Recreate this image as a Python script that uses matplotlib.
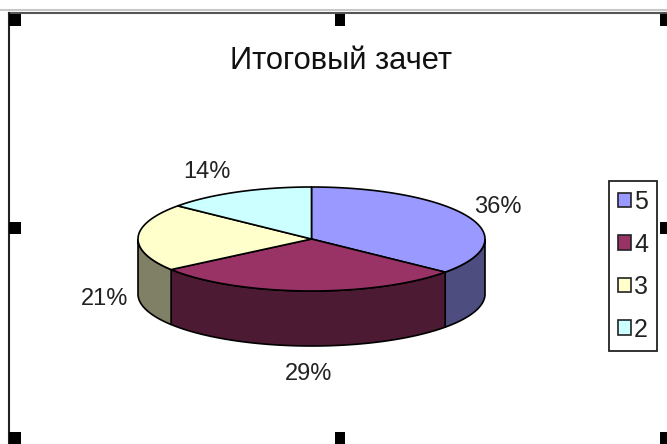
import numpy as np
import matplotlib
matplotlib.use("Agg")
import matplotlib.pyplot as plt
from matplotlib.patches import Patch, Rectangle

title = "Итоговый зачет"
categories = ["5", "4", "3", "2"]
values = [36, 29, 21, 14]
top_colors = ["#9999FF", "#993366", "#FFFFCC", "#CCFFFF"]
side_colors = ["#4D4D80", "#4D1A33", "#808066", "#668080"]
label_positions = [(498, 207), (309, 374), (105, 299), (207, 172)]

CX, CY, RX, RY, DEPTH = 311.5, 239.0, 173.5, 52.0, 55.0
FONT = "Liberation Sans"

fig = plt.figure(figsize=(6.67, 4.44), dpi=100, facecolor="white")
ax = fig.add_axes([0, 0, 1, 1])
ax.set_xlim(0, 667)
ax.set_ylim(444, 0)
ax.axis("off")


def rim(a0, a1, n=80):
    """Points on the top ellipse between two clockwise angles from 12 o'clock."""
    t = np.radians(np.linspace(a0, a1, n))
    return CX + RX * np.sin(t), CY - RY * np.cos(t)


shares = np.array(values, dtype=float) / sum(values) * 360
ends = np.cumsum(shares)
starts = ends - shares

# Outer wall: only the part of each slice on the near half of the ellipse
for a0, a1, col in zip(starts, ends, side_colors):
    lo, hi = max(a0, 90), min(a1, 270)
    if lo >= hi:
        continue
    x, y = rim(lo, hi)
    ax.fill(np.r_[x, x[::-1]], np.r_[y, y[::-1] + DEPTH], fc=col, ec="black", lw=1.2, zorder=2)

# Top faces
for a0, a1, col in zip(starts, ends, top_colors):
    x, y = rim(a0, a1)
    ax.fill(np.r_[CX, x], np.r_[CY, y], fc=col, ec="black", lw=1.2, joinstyle="round", zorder=3)

# Percentage labels
for v, (lx, ly) in zip(values, label_positions):
    ax.text(lx, ly, f"{v}%", ha="center", va="center", family=FONT, fontsize=17,
            color="#222222", zorder=4)

ax.text(341, 61, title, ha="center", va="center", family=FONT, fontsize=22.2,
        color="#111111", zorder=4)

# Legend
handles = [Patch(fc=c, ec="#222222", lw=1.2) for c in top_colors]
leg = ax.legend(handles, categories, loc="upper left", bbox_to_anchor=(609, 181),
                bbox_transform=ax.transData, prop={"family": FONT, "size": 18},
                frameon=True, fancybox=False, edgecolor="#222222", framealpha=1,
                borderpad=0.36, labelspacing=0.74, handlelength=0.52, handleheight=0.52,
                handletextpad=0.12, borderaxespad=0)
leg.get_frame().set_linewidth(1.3)
for t in leg.get_texts():
    t.set_color("#222222")

# Selected-object frame and its sizing handles
ax.plot([0, 667], [10, 10], color="#C8C8C8", lw=1.5, zorder=1)
ax.plot([8.5, 667], [13, 13], color="#555555", lw=1.5, zorder=1)
ax.plot([8.5, 8.5], [13, 444], color="#222222", lw=1.5, zorder=1)
for hx in (9, 335, 660):
    for hy in (14, 222, 432):
        if hx == 335 and hy == 222:
            continue
        ax.add_patch(Rectangle((hx, hy), 12 if hx != 335 else 10, 12, fc="black", ec="none", zorder=5))

fig.savefig("out.png", dpi=100)
